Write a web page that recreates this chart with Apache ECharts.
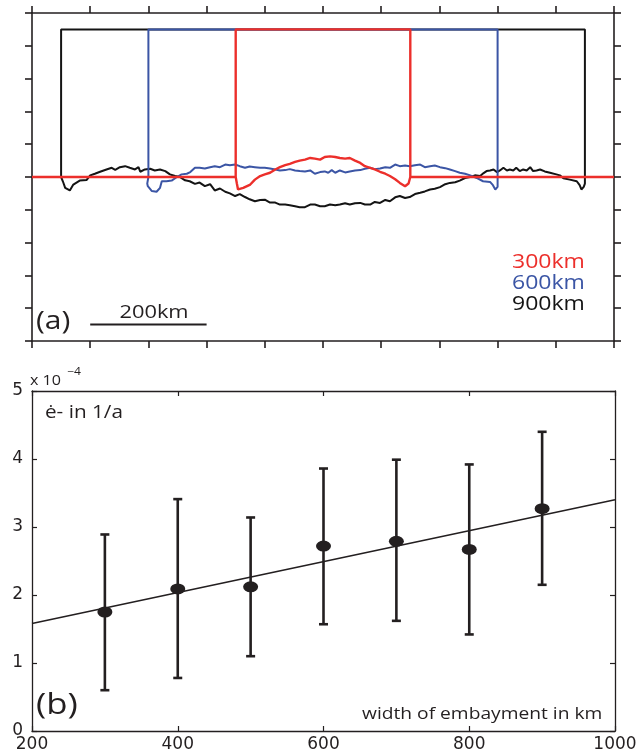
<!DOCTYPE html>
<html>
<head>
<meta charset="utf-8">
<script src="https://cdn.jsdelivr.net/npm/echarts@6/dist/echarts.min.js"></script>
<style>
html,body{margin:0;padding:0;background:#fff;}
#c{width:640px;height:753px;}
</style>
</head>
<body>
<div id="c"></div>
<script>
// ---------- Panel (a): profiles across embayments (km, relative value) ----------
const halfWidths = [150, 300, 450];          // 300km, 600km, 900km embayments
const plateauLevel = 4.5;
const embayLabels = ['300km', '600km', '900km'];

const profile300 = [[-150,0],[-148,-0.2],[-146,-0.38],[-137,-0.33],[-125,-0.23],[-117,-0.08],[-108,0.03],[-100,0.08],[-91,0.13],[-82,0.23],[-74,0.3],[-65,0.36],[-57,0.4],[-48,0.46],[-40,0.5],[-31,0.53],[-22,0.58],[-14,0.56],[-5,0.53],[3,0.61],[12,0.63],[21,0.61],[29,0.58],[38,0.56],[46,0.58],[55,0.5],[64,0.43],[72,0.33],[81,0.28],[89,0.23],[98,0.16],[107,0.1],[115,0.03],[124,-0.07],[132,-0.18],[141,-0.28],[147,-0.2],[150,0]];

const profile600 = [[-300,0],[-302,-0.2],[-301,-0.28],[-294,-0.43],[-286,-0.45],[-280,-0.33],[-277,-0.13],[-269,-0.13],[-260,-0.11],[-251,0],[-243,0.08],[-234,0.1],[-228,0.15],[-220,0.28],[-212,0.28],[-203,0.26],[-194,0.3],[-186,0.33],[-177,0.3],[-168,0.38],[-160,0.36],[-151,0.38],[-143,0.33],[-134,0.28],[-126,0.32],[-117,0.3],[-108,0.28],[-100,0.28],[-91,0.26],[-82,0.23],[-74,0.2],[-65,0.21],[-57,0.24],[-48,0.2],[-40,0.18],[-31,0.17],[-22,0.2],[-14,0.1],[-5,0.15],[3,0.17],[9,0.13],[15,0.21],[21,0.13],[29,0.2],[38,0.14],[46,0.17],[55,0.2],[64,0.21],[72,0.25],[81,0.28],[89,0.24],[98,0.26],[107,0.3],[115,0.28],[124,0.38],[132,0.33],[141,0.35],[149,0.33],[158,0.36],[167,0.38],[175,0.3],[184,0.33],[192,0.35],[201,0.3],[210,0.27],[218,0.23],[227,0.18],[235,0.13],[244,0.1],[253,0.05],[264,-0.03],[275,-0.13],[287,-0.15],[292,-0.25],[296,-0.38],[300,-0.3],[300,0]];

const profile900 = [[-450,0],[-447,-0.13],[-443,-0.33],[-435,-0.41],[-429,-0.23],[-418,-0.11],[-406,-0.09],[-400,0.05],[-392,0.1],[-383,0.16],[-372,0.23],[-363,0.28],[-357,0.22],[-349,0.3],[-340,0.33],[-332,0.28],[-323,0.23],[-317,0.3],[-314,0.16],[-306,0.23],[-297,0.25],[-289,0.2],[-280,0.23],[-271,0.18],[-263,0.08],[-254,0.03],[-246,0],[-237,-0.1],[-229,-0.13],[-220,-0.21],[-212,-0.17],[-203,-0.28],[-194,-0.22],[-186,-0.41],[-177,-0.35],[-168,-0.45],[-160,-0.5],[-151,-0.58],[-143,-0.52],[-134,-0.61],[-126,-0.68],[-117,-0.74],[-108,-0.7],[-100,-0.69],[-91,-0.78],[-82,-0.78],[-74,-0.84],[-65,-0.84],[-57,-0.86],[-48,-0.89],[-40,-0.92],[-31,-0.92],[-22,-0.84],[-14,-0.84],[-5,-0.89],[3,-0.89],[12,-0.84],[21,-0.86],[29,-0.84],[38,-0.8],[46,-0.84],[55,-0.8],[64,-0.79],[72,-0.84],[81,-0.84],[89,-0.76],[98,-0.79],[107,-0.7],[115,-0.74],[124,-0.62],[132,-0.58],[141,-0.64],[149,-0.61],[158,-0.52],[167,-0.48],[175,-0.44],[184,-0.38],[192,-0.36],[201,-0.31],[210,-0.22],[218,-0.18],[227,-0.16],[235,-0.11],[244,-0.03],[253,0],[261,0.05],[270,0.03],[276,0.12],[281,0.18],[287,0.2],[293,0.23],[299,0.15],[304,0.2],[310,0.28],[316,0.2],[321,0.23],[327,0.2],[332,0.28],[338,0.18],[344,0.23],[350,0.2],[356,0.3],[361,0.18],[367,0.2],[373,0.23],[381,0.17],[390,0.13],[401,0.08],[407,0.05],[413,-0.04],[424,-0.08],[436,-0.13],[441,-0.25],[444,-0.38],[448,-0.3],[450,-0.2],[450,0]];

const baselineX = [-500, 500];
const scaleBarX = [-400, -200];
const scaleBarY = -4.5;

// ---------- Panel (b): strain rate vs embayment width ----------
const widths   = [300, 400, 500, 600, 700, 800, 900];
const rateMean = [1.75, 2.09, 2.12, 2.72, 2.79, 2.67, 3.27];
const rateUp   = [2.89, 3.41, 3.14, 3.86, 3.99, 3.92, 4.40];
const rateLow  = [0.60, 0.78, 1.10, 1.57, 1.62, 1.42, 2.15];
const fitX = [200, 1000];
const fitY = [1.58, 3.40];

const xTicksB = {min: 200, max: 1000, interval: 200};
const yTicksB = {min: 0, max: 5, interval: 1};

// ---------- styles ----------
const RED = '#ec2f2b', BLUE = '#3b55a5', BLACK = '#141414', INK = '#231f20';
const AX = '"DejaVu Sans", sans-serif';
const TX = '"Open Sans", sans-serif';

function rect(h) { return [[-h,0],[-h,plateauLevel],[h,plateauLevel],[h,0]]; }

const redData = [[baselineX[0],0]].concat(profile300, [[baselineX[1],0]], [null], rect(halfWidths[0]));
const blueData = profile600.concat([null], rect(halfWidths[1]));
const blackData = profile900.concat([null], rect(halfWidths[2]));

const plain = v => String(v);
const axLine = {lineStyle: {color: INK, width: 1.6}};
function topAx(pos, extra) {
  return Object.assign({
    type: 'value', gridIndex: 0, position: pos,
    axisLine: Object.assign({onZero: false, show: true}, axLine),
    axisTick: {show: true, inside: false, length: 7, lineStyle: {color: INK, width: 1.6}},
    axisLabel: {show: false}, splitLine: {show: false}
  }, extra);
}
function botAx(pos, labelMargin, extra) {
  return Object.assign({
    type: 'value', gridIndex: 1, position: pos,
    axisLine: {onZero: false, show: true, lineStyle: {color: INK, width: 1.3}},
    axisTick: {show: true, inside: true, length: 5, lineStyle: {color: INK, width: 1.2}},
    axisLabel: labelMargin != null
      ? {show: true, color: INK, fontFamily: AX, fontSize: 17, margin: labelMargin, formatter: plain}
      : {show: false},
    splitLine: {show: false}
  }, extra);
}

const chart = echarts.init(document.getElementById('c'), null, {renderer: 'canvas'});
chart.setOption({
  animation: false,
  backgroundColor: '#fff',
  grid: [
    {left: 32, top: 13, width: 582, height: 328},
    {left: 32, top: 391, width: 583, height: 340}
  ],
  xAxis: [
    topAx('bottom', {min: -500, max: 500, interval: 100}),
    topAx('top', {min: -500, max: 500, interval: 100}),
    botAx('bottom', 5, xTicksB),
    botAx('top', null, xTicksB)
  ],
  yAxis: [
    topAx('left', {min: -5, max: 5, interval: 1}),
    topAx('right', {min: -5, max: 5, interval: 1}),
    botAx('left', 9, yTicksB),
    botAx('right', null, yTicksB)
  ],
  series: [
    {type: 'line', xAxisIndex: 0, yAxisIndex: 0, data: blackData, symbol: 'none', connectNulls: false,
     lineStyle: {color: BLACK, width: 2}, z: 2},
    {type: 'line', xAxisIndex: 0, yAxisIndex: 0, data: blueData, symbol: 'none', connectNulls: false,
     lineStyle: {color: BLUE, width: 2}, z: 3},
    {type: 'line', xAxisIndex: 0, yAxisIndex: 0, data: redData, symbol: 'none', connectNulls: false,
     lineStyle: {color: RED, width: 2.4}, z: 4},
    {type: 'line', xAxisIndex: 0, yAxisIndex: 0, data: scaleBarX.map(x => [x, scaleBarY]), symbol: 'none',
     lineStyle: {color: INK, width: 2}, z: 4},
    // panel b
    {type: 'line', xAxisIndex: 2, yAxisIndex: 2, data: fitX.map((x, i) => [x, fitY[i]]), symbol: 'none',
     lineStyle: {color: INK, width: 1.6}, z: 2},
    {type: 'custom', xAxisIndex: 2, yAxisIndex: 2, z: 3,
     data: widths.map((x, i) => [x, rateLow[i], rateUp[i]]),
     encode: {x: 0, y: [1, 2]},
     renderItem: function (params, api) {
       const x = api.value(0);
       const p1 = api.coord([x, api.value(1)]);
       const p2 = api.coord([x, api.value(2)]);
       const w = 4.5, st = {stroke: INK, lineWidth: 2.6};
       return {type: 'group', children: [
         {type: 'line', shape: {x1: p1[0], y1: p1[1], x2: p2[0], y2: p2[1]}, style: st},
         {type: 'line', shape: {x1: p1[0] - w, y1: p1[1], x2: p1[0] + w, y2: p1[1]}, style: st},
         {type: 'line', shape: {x1: p2[0] - w, y1: p2[1], x2: p2[0] + w, y2: p2[1]}, style: st}
       ]};
     }},
    {type: 'scatter', xAxisIndex: 2, yAxisIndex: 2, z: 4, symbol: 'circle', symbolSize: [15, 11],
     data: widths.map((x, i) => [x, rateMean[i]]), itemStyle: {color: INK, opacity: 1}}
  ],
  graphic: [
    {type: 'text', x: 512, y: 262, scaleX: 1.15, style: {text: embayLabels[0], fill: RED, font: '20px ' + TX, textVerticalAlign: 'middle', verticalAlign: 'middle'}},
    {type: 'text', x: 512, y: 283, scaleX: 1.15, style: {text: embayLabels[1], fill: BLUE, font: '20px ' + TX, textVerticalAlign: 'middle', verticalAlign: 'middle'}},
    {type: 'text', x: 512, y: 304, scaleX: 1.15, style: {text: embayLabels[2], fill: BLACK, font: '20px ' + TX, textVerticalAlign: 'middle', verticalAlign: 'middle'}},
    {type: 'text', x: 154, y: 313, scaleX: 1.15, style: {text: '200km', fill: INK, font: '19px ' + TX, textAlign: 'center', align: 'center', textVerticalAlign: 'middle', verticalAlign: 'middle'}},
    {type: 'text', x: 36, y: 322, scaleX: 1.2, style: {text: '(a)', fill: INK, font: '25px ' + TX, textVerticalAlign: 'middle', verticalAlign: 'middle'}},
    {type: 'text', x: 30, y: 381, scaleX: 1.15, style: {text: 'x 10', fill: INK, font: '14px ' + TX, textVerticalAlign: 'middle', verticalAlign: 'middle'}},
    {type: 'text', x: 67, y: 372, scaleX: 1.1, style: {text: '\u22124', fill: INK, font: '11px ' + TX, textVerticalAlign: 'middle', verticalAlign: 'middle'}},
    {type: 'text', x: 45, y: 413, scaleX: 1.15, style: {text: '\u0117- in 1/a', fill: INK, font: '18px ' + TX, textVerticalAlign: 'middle', verticalAlign: 'middle'}},
    {type: 'text', x: 36, y: 706, scaleX: 1.2, style: {text: '(b)', fill: INK, font: '29px ' + TX, textVerticalAlign: 'middle', verticalAlign: 'middle'}},
    {type: 'text', x: 362, y: 714, scaleX: 1.2, style: {text: 'width of embayment in km', fill: INK, font: '16px ' + TX, textVerticalAlign: 'middle', verticalAlign: 'middle'}}
  ]
});
</script>
</body>
</html>
